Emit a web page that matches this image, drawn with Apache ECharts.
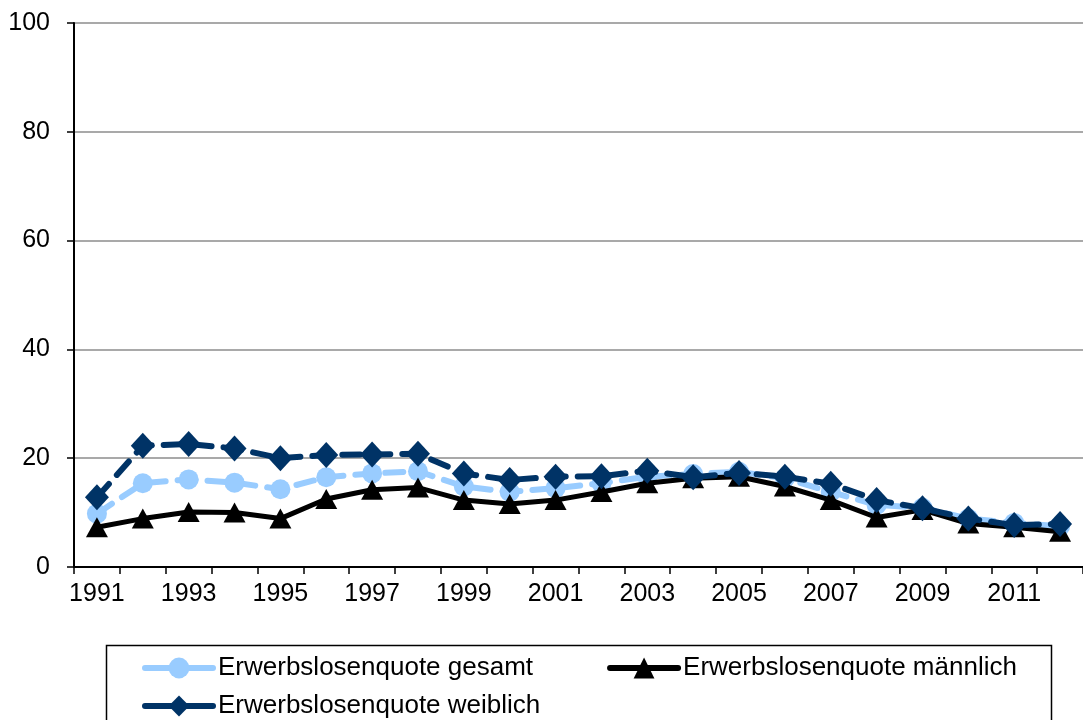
<!DOCTYPE html>
<html>
<head>
<meta charset="utf-8">
<script src="https://cdn.jsdelivr.net/npm/echarts@6/dist/echarts.min.js"></script>
<style>
    html, body { margin: 0; padding: 0; background: #fff; }
    #mychart { width: 1083px; height: 720px; }
</style>
</head>
<body>
<div id="mychart"></div>
<script>
// years on the x axis
var years = ['1991', '1992', '1993', '1994', '1995', '1996', '1997', '1998', '1999', '2000', '2001',
    '2002', '2003', '2004', '2005', '2006', '2007', '2008', '2009', '2010', '2011', '2012'];

// values (percent)
var gesamt = [9.8, 15.4, 16.1, 15.5, 14.3, 16.5, 17.2, 17.6, 14.8, 13.8, 14.5,
    15.4, 16.6, 17.1, 17.5, 16.3, 13.8, 11.4, 10.9, 8.9, 8.1, 7.5];
var maennlich = [7.3, 8.9, 10.1, 10.0, 8.9, 12.5, 14.2, 14.6, 12.3, 11.6, 12.3,
    13.8, 15.4, 16.3, 16.6, 14.8, 12.3, 9.1, 10.5, 8.0, 7.3, 6.5];
var weiblich = [12.8, 22.3, 22.6, 21.8, 20.0, 20.6, 20.7, 20.8, 17.2, 16.0, 16.6,
    16.7, 17.7, 16.5, 17.3, 16.6, 15.3, 12.3, 10.8, 8.9, 7.7, 7.9];

var names = ['Erwerbslosenquote gesamt', 'Erwerbslosenquote männlich', 'Erwerbslosenquote weiblich'];

var fontName = '"Liberation Sans", Arial, sans-serif';

function getCharts() {
    var myChart = echarts.init(document.getElementById('mychart'));
    var legendText = { fontSize: 26, fontFamily: fontName, color: '#000' };
    var legendLine = { type: 'solid', width: 6, cap: 'round' };
    var option = {
        animation: false,
        backgroundColor: '#fff',
        grid: {
            left: 74,
            top: 23,
            width: 1015,
            height: 544
        },
        graphic: [{
            type: 'rect',
            shape: { x: 106.5, y: 645.5, width: 945, height: 90 },
            style: { fill: 'none', stroke: '#000', lineWidth: 1.5 },
            z: -1
        }],
        legend: [{
            data: [names[0], names[1]],
            left: 137,
            top: 650,
            itemWidth: 68,
            itemHeight: 26,
            itemGap: 74,
            itemTextGap: 4,
            textStyle: legendText,
            lineStyle: legendLine
        }, {
            data: [names[2]],
            left: 137,
            top: 688,
            itemWidth: 68,
            itemHeight: 26,
            itemTextGap: 4,
            textStyle: legendText,
            lineStyle: legendLine
        }],
        xAxis: {
            type: 'category',
            data: years,
            boundaryGap: true,
            axisLine: { show: true, lineStyle: { color: '#000', width: 2 } },
            axisTick: { show: true, interval: 0, length: 7, lineStyle: { color: '#000', width: 1.5 } },
            axisLabel: { interval: 1, margin: 15, fontSize: 25, fontFamily: fontName, color: '#000' },
            splitLine: { show: false }
        },
        yAxis: {
            type: 'value',
            min: 0,
            max: 100,
            interval: 20,
            axisLine: { show: true, lineStyle: { color: '#000', width: 2 } },
            axisTick: { show: true, length: 7, lineStyle: { color: '#000', width: 1.5 } },
            axisLabel: { margin: 24, fontSize: 25, fontFamily: fontName, color: '#000' },
            splitLine: { show: true, lineStyle: { color: '#8c8c8c', width: 1.5 } }
        },
        series: [
            {
                name: names[0],
                type: 'line',
                data: gesamt,
                symbol: 'circle',
                symbolSize: 20,
                itemStyle: { color: '#99ccff' },
                lineStyle: { color: '#99ccff', width: 6, type: [18, 12], cap: 'round' },
                z: 2
            },
            {
                name: names[1],
                type: 'line',
                data: maennlich,
                symbol: 'triangle',
                symbolSize: [22, 20],
                itemStyle: { color: '#000' },
                lineStyle: { color: '#000', width: 5 },
                z: 3
            },
            {
                name: names[2],
                type: 'line',
                data: weiblich,
                symbol: 'diamond',
                symbolSize: [24, 26],
                itemStyle: { color: '#003366' },
                lineStyle: { color: '#003366', width: 6, type: [18, 12], cap: 'round' },
                z: 4
            }
        ]
    };
    myChart.setOption(option);
}

getCharts();
</script>
</body>
</html>
